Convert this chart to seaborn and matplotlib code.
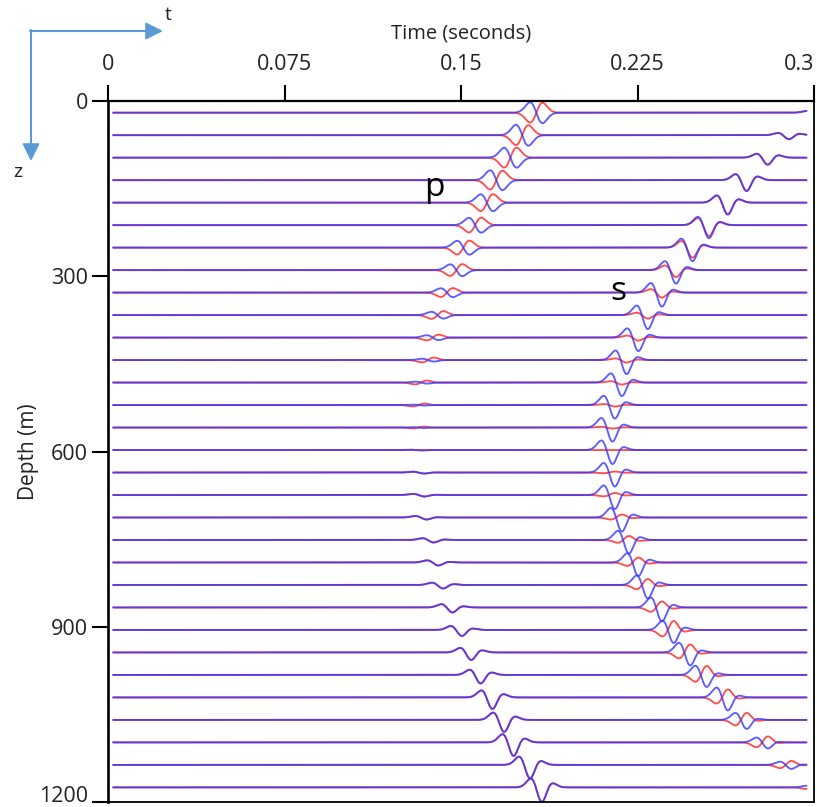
import numpy as np
import pandas as pd
import matplotlib
matplotlib.use("Agg")
import matplotlib.pyplot as plt
import seaborn as sns

# ---- receiver depths and picked arrivals -------------------------------
depth_m = [20, 58.5, 97, 135.5, 174, 212.5, 251, 289.5, 328, 366.5, 405,
           443.5, 482, 520.5, 559, 597.5, 636, 674.5, 713, 751.5, 790,
           828.5, 867, 905.5, 944, 982.5, 1021, 1059.5, 1098, 1136.5, 1175]

p_time_s = [0.182, 0.176, 0.171, 0.165, 0.161, 0.156, 0.151, 0.148, 0.144,
            0.140, 0.138, 0.136, 0.133, 0.132, 0.132, 0.131, 0.132, 0.132,
            0.133, 0.136, 0.138, 0.140, 0.144, 0.148, 0.152, 0.156, 0.161,
            0.166, 0.170, 0.177, 0.182]

s_time_s = [0.299, 0.287, 0.278, 0.269, 0.261, 0.253, 0.246, 0.239, 0.233,
            0.227, 0.223, 0.218, 0.216, 0.213, 0.212, 0.212, 0.213, 0.213,
            0.216, 0.219, 0.223, 0.227, 0.233, 0.238, 0.245, 0.252, 0.261,
            0.269, 0.278, 0.288, 0.299]

# signed amplitudes of the two horizontal components
p_amp_red = [-1.0, -1.0, -1.0, -0.95, -0.85, -0.75, -0.7, -0.6, -0.45, -0.4,
             -0.3, -0.25, -0.2, -0.15, -0.1, 0.0, 0.1, 0.15, 0.2, 0.25, 0.3,
             0.35, 0.5, 0.6, 0.75, 0.85, 1.15, 1.2, 1.35, 1.35, 1.45]
p_amp_blue = [1.05, 1.05, 1.0, 1.0, 0.85, 0.75, 0.7, 0.6, 0.45, 0.35, 0.25,
              0.15, 0.1, 0.05, 0.05, 0.05, 0.1, 0.15, 0.2, 0.25, 0.3, 0.35,
              0.5, 0.6, 0.75, 0.85, 1.15, 1.2, 1.35, 1.35, 1.45]
s_amp_red = [0.3, 0.4, 0.7, 1.05, 1.15, 1.1, 1.0, 0.7, 0.5, 0.35, 0.3, 0.25,
             0.2, 0.15, 0.1, 0.0, -0.1, -0.2, -0.3, -0.4, -0.5, -0.6, -0.6,
             -0.9, -0.8, -0.9, -0.8, -0.7, -0.6, -0.4, -0.2]
s_amp_blue = [0.3, 0.4, 0.7, 1.1, 1.2, 1.3, 1.35, 1.35, 1.4, 1.4, 1.35, 1.4,
              1.35, 1.35, 1.4, 1.4, 1.4, 1.4, 1.4, 1.35, 1.35, 1.35, 1.4, 1.3,
              1.3, 1.2, 1.3, 0.9, 0.6, 0.4, 0.2]

# wavelet phase (0 = antisymmetric, 90 = zero-phase trough)
p_phase_deg = [20, 20, 20, 20, 20, 25, 25, 30, 30, 35, 35, 40, 40, 45, 50, 55,
               55, 60, 60, 65, 65, 70, 70, 70, 75, 75, 75, 75, 75, 75, 75]
s_phase_deg = [80, 80, 80, 80, 75, 72, 70, 70, 68, 68, 68, 68, 68, 68, 68, 68,
               68, 68, 68, 68, 68, 66, 65, 65, 62, 60, 60, 58, 55, 55, 55]

time_ticks = [0, 0.075, 0.15, 0.225, 0.3]
time_tick_labels = ["0", "0.075", "0.15", "0.225", "0.3"]
depth_ticks = [0, 300, 600, 900, 1200]

SIGMA = 0.0027   # wavelet width in seconds
GAIN = 17.1      # metres of trace deflection per unit amplitude

t = np.arange(0.0022, 0.2970, 0.0002)


def wavelet(tau, phase_deg):
    """Gaussian-derivative / Ricker mix, centred between its main lobes, unit peak."""
    phi = np.radians(phase_deg)

    def shape(x):
        u = x / SIGMA
        g = np.exp(-0.5 * u * u)
        d = -u * g * np.exp(0.5)
        r = (1 - u * u) * g
        return np.cos(phi) * d - np.sin(phi) * r

    grid = np.linspace(-6 * SIGMA, 6 * SIGMA, 2401)
    w = shape(grid)
    mid = 0.5 * (grid[np.argmax(w)] + grid[np.argmin(w)])
    return shape(tau + mid) / np.abs(w).max()


frames = []
for i, z in enumerate(depth_m):
    wp = wavelet(t - p_time_s[i], p_phase_deg[i])
    ws = wavelet(t - s_time_s[i], s_phase_deg[i])
    for comp, ap, as_ in (("red", p_amp_red[i], s_amp_red[i]),
                          ("blue", p_amp_blue[i], s_amp_blue[i])):
        frames.append(pd.DataFrame({
            "time": t,
            "depth": z - GAIN * (ap * wp + as_ * ws),
            "trace": i,
            "component": comp,
        }))
traces = pd.concat(frames, ignore_index=True)

sns.set_theme(style="white")
plt.rcParams["font.family"] = ["Open Sans", "DejaVu Sans"]

fig = plt.figure(figsize=(8.17, 8.07), dpi=100)
ax = fig.add_axes([108 / 817, 5 / 807, 706 / 817, 701 / 807])

styles = {"red": ("#ff3030", 0.85), "blue": ("#3535ff", 0.8)}
for comp in ("red", "blue"):
    col, alp = styles[comp]
    sns.lineplot(data=traces[traces["component"] == comp], x="time", y="depth",
                 units="trace", estimator=None, sort=False, color=col,
                 alpha=alp, lw=1.35, ax=ax, legend=False)

ax.set_xlim(0, 0.3)
ax.set_ylim(1200, 0)

ax.xaxis.tick_top()
ax.xaxis.set_label_position("top")
ax.set_xticks(time_ticks)
ax.set_xticklabels(time_tick_labels)
ax.set_yticks(depth_ticks)
ax.set_yticklabels([str(v) for v in depth_ticks])
ax.tick_params(axis="x", which="major", top=True, bottom=False, direction="out",
               length=11.5, width=1.5, pad=7, labelsize=15.5, colors="black")
ax.tick_params(axis="y", which="major", left=True, right=False, direction="out",
               length=11.5, width=1.5, pad=3, labelsize=15.5, colors="black")
ax.get_xticklabels()[-1].set_horizontalalignment("right")
ax.get_yticklabels()[-1].set_verticalalignment("baseline")
for lab in ax.get_xticklabels() + ax.get_yticklabels():
    lab.set_color("#222222")

ax.set_xlabel("Time (seconds)", fontsize=14.5, color="#222222")
ax.xaxis.set_label_coords(0.5, 1.0956)
ax.xaxis.label.set_verticalalignment("center")
ax.set_ylabel("Depth (m)", fontsize=15, color="#222222")
ax.yaxis.set_label_coords(-0.1119, 0.5)
ax.yaxis.label.set_verticalalignment("center")

for side in ("left", "top", "right", "bottom"):
    ax.spines[side].set_visible(True)
    ax.spines[side].set_color("black")
ax.spines["left"].set_linewidth(1.9)
ax.spines["top"].set_linewidth(1.6)
ax.spines["right"].set_linewidth(1.3)
ax.spines["bottom"].set_linewidth(1.3)

# arrival labels
ax.text(0.1385, 162.6, "p", fontsize=24, ha="center", va="baseline", color="black")
ax.text(0.217, 340.7, "s", fontsize=24, ha="center", va="baseline", color="black")

# orientation arrows (t to the right, z downwards)
arrow_kw = dict(arrowstyle="-|>", color="#5b9bd5", lw=1.5, mutation_scale=26,
                shrinkA=0, shrinkB=0)
ax.annotate("", xy=(163, 776), xytext=(30, 776), xycoords="figure pixels",
            textcoords="figure pixels", arrowprops=arrow_kw, annotation_clip=False)
ax.annotate("", xy=(31, 646), xytext=(31, 777), xycoords="figure pixels",
            textcoords="figure pixels", arrowprops=arrow_kw, annotation_clip=False)
fig.text(168 / 817, 1 - 15 / 807, "t", fontsize=14, ha="center", va="center",
         color="#222222")
fig.text(18 / 817, 1 - 172 / 807, "z", fontsize=14, ha="center", va="center",
         color="#222222")

fig.savefig("out.png", dpi=100)
